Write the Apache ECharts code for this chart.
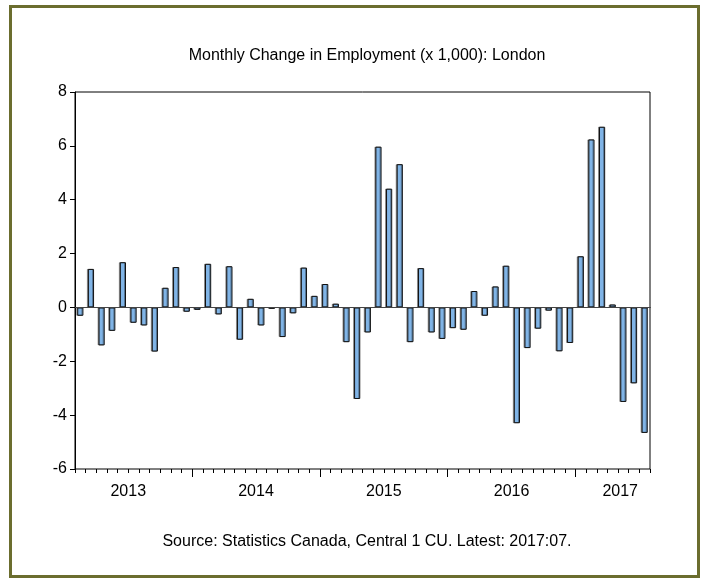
<!DOCTYPE html>
<html>
<head>
<meta charset="utf-8">
<script src="https://cdn.jsdelivr.net/npm/echarts@6/dist/echarts.min.js"></script>
<style>
    html, body { margin: 0; padding: 0; background: #fff; }
    #chart { width: 704px; height: 579px; }
</style>
</head>
<body>
<div id="chart"></div>
<script>
// months Feb 2013 .. Jul 2017
var months = [];
for (var y = 2013; y <= 2017; y++) {
    for (var m = 1; m <= 12; m++) {
        if (y == 2013 && m < 2) continue;
        if (y == 2017 && m > 7) continue;
        months.push(y + ':' + (m < 10 ? '0' + m : m));
    }
}

var change = [
    -0.31, 1.43, -1.41, -0.87, 1.68, -0.57, -0.67, -1.64, 0.73, 1.50, -0.16,
    -0.09, 1.62, -0.26, 1.53, -1.20, 0.32, -0.67, -0.05, -1.10, -0.22, 1.48, 0.43, 0.87,
    0.14, -1.29, -3.40, -0.93, 5.97, 4.41, 5.32, -1.29, 1.46, -0.93, -1.17, -0.77,
    -0.83, 0.61, -0.31, 0.78, 1.55, -4.30, -1.51, -0.79, -0.12, -1.63, -1.32, 1.90,
    6.24, 6.71, 0.11, -3.51, -2.82, -4.66
];

// month offsets, Jan 2013 = 0 (left edge = Feb 2013 = 1)
var monthStart = 1;
var monthEnd = 55;
var yearTicks = [12, 24, 36, 48];
var yearLabelPos = [6, 18, 30, 42, 52.2];
var yTicks = [-6, 8, 2];

var monthTicks = [];
for (var i = monthStart; i <= monthEnd; i++) monthTicks.push(i);

var font = 'Liberation Sans, Arial, sans-serif';
var myChart = echarts.init(document.getElementById('chart'));

var option = {
    backgroundColor: '#fff',
    animation: false,
    title: [{
        text: 'Monthly Change in Employment (x 1,000): London',
        left: 362,
        top: 43,
        textAlign: 'center',
        textStyle: { fontFamily: font, fontSize: 16, fontWeight: 'normal', color: '#000' }
    }, {
        text: 'Source: Statistics Canada, Central 1 CU. Latest: 2017:07.',
        left: 362,
        top: 529,
        textAlign: 'center',
        textStyle: { fontFamily: font, fontSize: 16, fontWeight: 'normal', color: '#000' }
    }],
    graphic: [{
        type: 'rect',
        shape: { x: 10.5, y: 6.5, width: 688, height: 570 },
        style: { fill: 'none', stroke: '#6b6d2e', lineWidth: 3 },
        silent: true
    }],
    grid: {
        left: 75, right: 54, top: 92, bottom: 110,
        show: true, borderColor: '#000', borderWidth: 1
    },
    xAxis: [{
        type: 'category',
        data: months,
        position: 'bottom',
        axisLine: { lineStyle: { color: '#000' } },
        axisTick: { show: false },
        axisLabel: { show: false },
        splitLine: { show: false }
    }, {
        // year boundaries + year labels
        type: 'value',
        position: 'bottom',
        min: monthStart,
        max: monthEnd,
        axisLine: { show: false },
        axisTick: { show: true, customValues: yearTicks, length: 8, lineStyle: { color: '#000' } },
        axisLabel: {
            customValues: yearLabelPos,
            margin: 15,
            fontFamily: font, fontSize: 16, color: '#000',
            formatter: function (v) { return 2013 + Math.floor(v / 12); }
        },
        splitLine: { show: false }
    }, {
        // month ticks
        type: 'value',
        position: 'bottom',
        min: monthStart,
        max: monthEnd,
        axisLine: { show: false },
        axisTick: { show: true, customValues: monthTicks, length: 4, lineStyle: { color: '#000' } },
        axisLabel: { show: false },
        splitLine: { show: false }
    }],
    yAxis: {
        type: 'value',
        min: yTicks[0],
        max: yTicks[1],
        interval: yTicks[2],
        axisLine: { show: true, lineStyle: { color: '#000' } },
        axisTick: { show: true, length: 5, lineStyle: { color: '#000' } },
        axisLabel: { fontFamily: font, fontSize: 16, color: '#000', margin: 8 },
        splitLine: { show: false }
    },
    series: [{
        type: 'bar',
        data: change,
        barWidth: '58%',
        itemStyle: {
            color: '#80b4e6',
            borderColor: '#111',
            borderWidth: 1,
            shadowColor: 'rgba(0,0,0,0.35)',
            shadowOffsetX: -1,
            shadowBlur: 0
        },
        markLine: {
            silent: true,
            symbol: 'none',
            label: { show: false },
            lineStyle: { color: '#444', width: 1, type: 'solid' },
            data: [{ yAxis: 0 }]
        }
    }]
};
myChart.setOption(option);
</script>
</body>
</html>
